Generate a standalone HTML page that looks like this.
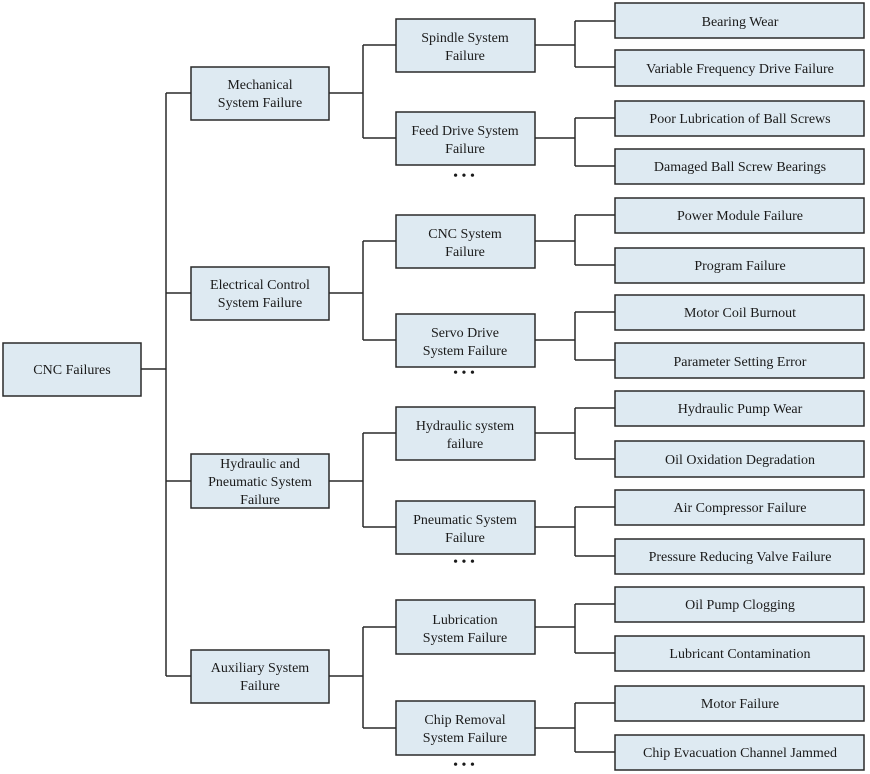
<!DOCTYPE html>
<html><head><meta charset="utf-8"><style>
html,body{margin:0;padding:0;background:#fff}
svg{display:block}
text{font-family:"Liberation Serif",serif;font-size:14px;fill:#1a1a1a;text-anchor:middle}
rect{fill:#deeaf2;stroke:#2a2a2a;stroke-width:1.5}
path{fill:none;stroke:#2a2a2a;stroke-width:1.5}
</style></head><body>
<svg width="870" height="774" viewBox="0 0 870 774">
<!-- connectors -->
<path d="M141 369H166M166 93V676M166 93H191M166 293H191M166 481H191M166 676H191"/>
<path d="M329 93H363M363 45V138M363 45H396M363 138H396"/>
<path d="M329 293H363M363 241V340M363 241H396M363 340H396"/>
<path d="M329 481H363M363 433V527M363 433H396M363 527H396"/>
<path d="M329 676H363M363 627V728M363 627H396M363 728H396"/>
<path d="M535 45H575M575 21V67M575 21H615M575 67H615"/>
<path d="M535 138H575M575 118V166M575 118H615M575 166H615"/>
<path d="M535 241H575M575 215V265M575 215H615M575 265H615"/>
<path d="M535 340H575M575 312V360M575 312H615M575 360H615"/>
<path d="M535 433H575M575 408V459M575 408H615M575 459H615"/>
<path d="M535 527H575M575 507V556M575 507H615M575 556H615"/>
<path d="M535 627H575M575 604V653M575 604H615M575 653H615"/>
<path d="M535 728H575M575 703V752M575 703H615M575 752H615"/>
<!-- root -->
<rect x="3" y="343" width="138" height="53"/><text x="72" y="374">CNC Failures</text>
<!-- level 1 -->
<rect x="191" y="67" width="138" height="53"/><text x="260" y="89">Mechanical</text><text x="260" y="107">System Failure</text>
<rect x="191" y="267" width="138" height="53"/><text x="260" y="289">Electrical Control</text><text x="260" y="307">System Failure</text>
<rect x="191" y="454" width="138" height="54"/><text x="260" y="468">Hydraulic and</text><text x="260" y="486">Pneumatic System</text><text x="260" y="504">Failure</text>
<rect x="191" y="650" width="138" height="53"/><text x="260" y="672">Auxiliary System</text><text x="260" y="690">Failure</text>
<!-- level 2 -->
<rect x="396" y="19" width="139" height="53"/><text x="465" y="42">Spindle System</text><text x="465" y="60">Failure</text>
<rect x="396" y="112" width="139" height="53"/><text x="465" y="135">Feed Drive System</text><text x="465" y="153">Failure</text>
<text x="464" y="180">• • •</text>
<rect x="396" y="215" width="139" height="53"/><text x="465" y="238">CNC System</text><text x="465" y="256">Failure</text>
<rect x="396" y="314" width="139" height="53"/><text x="465" y="337">Servo Drive</text><text x="465" y="355">System Failure</text>
<text x="464" y="377">• • •</text>
<rect x="396" y="407" width="139" height="53"/><text x="465" y="430">Hydraulic system</text><text x="465" y="448">failure</text>
<rect x="396" y="501" width="139" height="53"/><text x="465" y="524">Pneumatic System</text><text x="465" y="542">Failure</text>
<text x="464" y="566">• • •</text>
<rect x="396" y="600" width="139" height="54"/><text x="465" y="624">Lubrication</text><text x="465" y="642">System Failure</text>
<rect x="396" y="701" width="139" height="54"/><text x="465" y="724">Chip Removal</text><text x="465" y="742">System Failure</text>
<text x="464" y="769">• • •</text>
<!-- leaves -->
<rect x="615" y="3" width="249" height="35"/><text x="740" y="26">Bearing Wear</text>
<rect x="615" y="50" width="249" height="36"/><text x="740" y="73">Variable Frequency Drive Failure</text>
<rect x="615" y="101" width="249" height="35"/><text x="740" y="123">Poor Lubrication of Ball Screws</text>
<rect x="615" y="149" width="249" height="35"/><text x="740" y="171">Damaged Ball Screw Bearings</text>
<rect x="615" y="198" width="249" height="35"/><text x="740" y="220">Power Module Failure</text>
<rect x="615" y="248" width="249" height="35"/><text x="740" y="270">Program Failure</text>
<rect x="615" y="295" width="249" height="35"/><text x="740" y="317">Motor Coil Burnout</text>
<rect x="615" y="343" width="249" height="35"/><text x="740" y="366">Parameter Setting Error</text>
<rect x="615" y="391" width="249" height="35"/><text x="740" y="413">Hydraulic Pump Wear</text>
<rect x="615" y="441" width="249" height="36"/><text x="740" y="464">Oil Oxidation Degradation</text>
<rect x="615" y="490" width="249" height="35"/><text x="740" y="512">Air Compressor Failure</text>
<rect x="615" y="539" width="249" height="35"/><text x="740" y="561">Pressure Reducing Valve Failure</text>
<rect x="615" y="587" width="249" height="35"/><text x="740" y="609">Oil Pump Clogging</text>
<rect x="615" y="636" width="249" height="35"/><text x="740" y="658">Lubricant Contamination</text>
<rect x="615" y="686" width="249" height="35"/><text x="740" y="708">Motor Failure</text>
<rect x="615" y="735" width="249" height="35"/><text x="740" y="757">Chip Evacuation Channel Jammed</text>
</svg>
</body></html>
